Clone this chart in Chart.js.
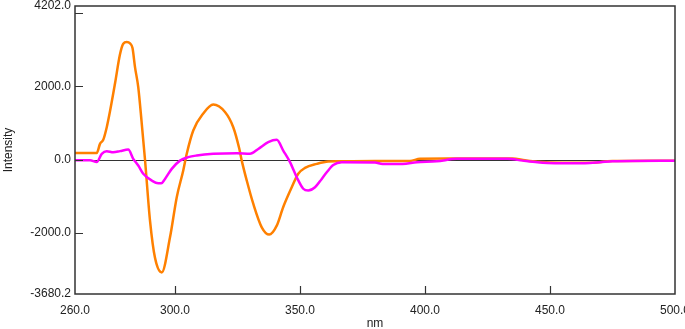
<!DOCTYPE html>
<html>
<head>
<meta charset="utf-8">
<script src="https://cdn.jsdelivr.net/npm/chart.js@4.4.1/dist/chart.umd.min.js"></script>
<style>
    html, body { margin: 0; padding: 0; background: #fff; }
    #wrap { width: 685px; height: 329px; position: relative; }
</style>
</head>
<body>
<div id="wrap"><canvas id="spectrumChart"></canvas></div>
<script>
// Orange spectrum (nm / intensity)
const orangeNm = [260, 264, 268.7, 270, 271.3, 272.7, 274, 276, 278, 279.3, 280.7, 282, 283, 284, 285.3, 286.7, 288, 290, 292, 294.7,
    298, 300.7, 303.3, 304.7, 307.3, 311.3, 315.3, 320, 323.3, 325.7, 326.7, 328.7, 331.3, 334.7, 337.7, 340.7, 343.3,
    346.7, 349.3, 352, 356.7, 361.3, 365, 380, 394, 398, 410, 425, 435, 440, 445, 455, 465, 475, 490, 500];
const orangeVal = [180, 180, 180, 430, 540, 885, 1320, 2080, 2880, 3170, 3215, 3180, 3050, 2530, 1980, 985, 0, -1670, -2690, -3090,
    -2130, -1030, -300, 160, 795, 1260, 1505, 1300, 885, 300, -30, -575, -1210, -1855, -2055, -1810, -1300,
    -760, -390, -230, -120, -55, -50, -40, -40, 20, 25, 30, 30, -20, -60, -90, -90, -40, -30, -30];

// Magenta spectrum (nm / intensity)
const magentaNm = [260, 266, 268.7, 270.7, 272.7, 275.3, 278, 281.3, 283.3, 285.3, 287.3, 290.7, 293.3, 294.5, 296, 298.7,
    302, 305.3, 308.7, 315.3, 324.7, 330, 333.3, 337.3, 340.7, 343.3, 346, 348.7, 351.3, 353.3, 356, 358.7, 360.7,
    363.3, 366.7, 380, 383, 391, 396.7, 404.7, 412.7, 424, 433, 439, 445, 452, 464, 470, 475, 500];
const magentaVal = [-20, -20, -70, 155, 230, 200, 230, 275, 20, -165, -390, -575, -650, -650, -530, -255,
    -30, 65, 110, 155, 175, 155, 290, 475, 540, 245, -70, -485, -800, -850, -760, -530, -350,
    -150, -75, -80, -120, -120, -75, -50, 20, 20, 20, -30, -75, -100, -100, -75, -45, -30];

// Axis ticks
const xTickValues = [260, 300, 350, 400, 450, 500];
const yTickValues = [-3680.2, -2000, 0, 2000, 4000, 4202];
const yHiddenLabels = [4000];

function toPoints(xs, ys) {
    return xs.map((x, i) => ({ x: x, y: ys[i] }));
}

/**
 * Frame, inward tick marks and zero line
 */
const framePlugin = {
    id: 'framePlugin',
    beforeDatasetsDraw(chart) {
        const { ctx, chartArea, scales } = chart;
        const y0 = Math.round(scales.y.getPixelForValue(0)) + 0.5;
        ctx.save();
        ctx.strokeStyle = '#333';
        ctx.lineWidth = 1;
        ctx.beginPath();
        ctx.moveTo(chartArea.left, y0);
        ctx.lineTo(chartArea.right, y0);
        ctx.stroke();
        ctx.restore();
    },
    afterDraw(chart) {
        const { ctx, chartArea, scales } = chart;
        ctx.save();
        ctx.strokeStyle = '#333';
        ctx.lineWidth = 1.5;
        ctx.strokeRect(chartArea.left, chartArea.top, chartArea.right - chartArea.left, chartArea.bottom - chartArea.top);
        ctx.lineWidth = 1.2;
        ctx.beginPath();
        scales.y.ticks.forEach(t => {
            if (t.value <= scales.y.min || t.value >= scales.y.max) return;
            const py = Math.round(scales.y.getPixelForValue(t.value)) + 0.5;
            ctx.moveTo(chartArea.left, py);
            ctx.lineTo(chartArea.left + 8, py);
        });
        scales.x.ticks.forEach(t => {
            if (t.value <= scales.x.min || t.value >= scales.x.max) return;
            const px = Math.round(scales.x.getPixelForValue(t.value)) + 0.5;
            ctx.moveTo(px, chartArea.bottom);
            ctx.lineTo(px, chartArea.bottom - 8);
        });
        ctx.stroke();
        ctx.restore();
    }
};

const tickFont = { family: 'Liberation Sans, Arial, sans-serif', size: 12 };

new Chart(document.getElementById('spectrumChart'), {
    type: 'line',
    data: {
        datasets: [{
            label: 'magenta',
            data: toPoints(magentaNm, magentaVal),
            borderColor: '#ff00ff',
            borderWidth: 2.5,
            pointRadius: 0,
            cubicInterpolationMode: 'monotone',
            fill: false
        }, {
            label: 'orange',
            data: toPoints(orangeNm, orangeVal),
            borderColor: '#ff8000',
            borderWidth: 2.5,
            pointRadius: 0,
            cubicInterpolationMode: 'monotone',
            fill: false
        }]
    },
    options: {
        responsive: true,
        maintainAspectRatio: false,
        animation: false,
        layout: { padding: { left: 0, top: 6, right: 10, bottom: 0 } },
        plugins: {
            legend: { display: false },
            tooltip: { enabled: false }
        },
        scales: {
            x: {
                type: 'linear',
                min: 260,
                max: 500,
                afterBuildTicks: scale => { scale.ticks = xTickValues.map(v => ({ value: v })); },
                afterFit: scale => {
                    scale.height = 35;
                    scale.paddingLeft = 0;
                    scale.paddingRight = 0;
                },
                grid: { display: false, drawTicks: false },
                border: { display: false },
                ticks: {
                    font: tickFont,
                    color: '#222',
                    padding: 9,
                    maxRotation: 0,
                    autoSkip: false,
                    callback: v => Number(v).toFixed(1)
                },
                title: {
                    display: true,
                    text: 'nm',
                    font: tickFont,
                    color: '#222',
                    padding: { top: 0, bottom: -2 }
                }
            },
            y: {
                type: 'linear',
                min: -3680.2,
                max: 4202,
                afterBuildTicks: scale => { scale.ticks = yTickValues.map(v => ({ value: v })); },
                afterFit: scale => {
                    scale.width = 75;
                    scale.paddingTop = 0;
                    scale.paddingBottom = 0;
                },
                grid: { display: false, drawTicks: false },
                border: { display: false },
                ticks: {
                    font: tickFont,
                    color: '#222',
                    padding: 4,
                    autoSkip: false,
                    callback: v => yHiddenLabels.includes(v) ? '' : Number(v).toFixed(1)
                },
                title: {
                    display: true,
                    text: 'Intensity',
                    font: tickFont,
                    color: '#222',
                    padding: { top: 1, bottom: 0 }
                }
            }
        }
    },
    plugins: [framePlugin]
});
</script>
</body>
</html>
